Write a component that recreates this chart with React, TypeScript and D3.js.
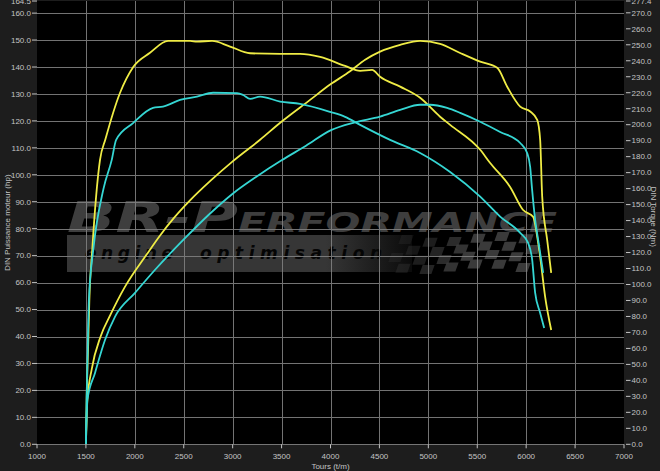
import React from "react";
import * as d3 from "d3";

// ---------- DATA ----------
const rpmTicks = [1000, 1500, 2000, 2500, 3000, 3500, 4000, 4500, 5000, 5500, 6000, 6500, 7000];
const hpTicks = [0, 10, 20, 30, 40, 50, 60, 70, 80, 90, 100, 110, 120, 130, 140, 150, 160];
const nmTicks = [0, 10, 20, 30, 40, 50, 60, 70, 80, 90, 100, 110, 120, 130, 140, 150, 160, 170, 180, 190, 200, 210, 220, 230, 240, 250, 260, 270];
const hpMax = 164.5;
const nmMax = 277.4;

// Yellow torque (Nm, right axis)
const rpmYT = [1500, 1508, 1522, 1535, 1565, 1644, 1700, 1849, 1982, 2155, 2340, 2565, 2636, 2789, 2973, 3178, 3485, 3689, 3894, 4149, 4303, 4425, 4507, 4712, 4916, 5120, 5223, 5530, 5632, 5836, 5969, 6072, 6113, 6143, 6194, 6256];
const nmYT = [0, 30, 60, 90, 122, 178, 191, 220, 236, 245, 252.4, 252.4, 252, 252.4, 248.9, 244.7, 244.3, 244.3, 242.4, 236.8, 233.7, 234.3, 230, 223.8, 216.8, 205, 199.9, 184.3, 176, 161, 146.6, 142.3, 129.8, 117.3, 92.3, 71.5];

// Yellow power (hp, left axis)
const rpmYP = [1500, 1515, 1560, 1650, 1750, 1900, 2122, 2258, 2400, 2564, 2780, 2994, 3280, 3495, 3791, 3996, 4200, 4354, 4507, 4712, 4916, 5120, 5325, 5530, 5704, 5806, 5939, 6041, 6113, 6143, 6164, 6215, 6256];
const hpYP = [0, 16.5, 28, 40, 48, 58.5, 70.5, 77.5, 84, 90.5, 98, 104.8, 113, 119.6, 127.8, 133.5, 138.4, 142.7, 145.7, 148.2, 149.7, 148.6, 145.2, 142, 139.7, 132.7, 125.3, 123.5, 120.4, 113, 91.8, 75.8, 63.6];

// Cyan torque (Nm, right axis)
const rpmCT = [1500, 1507, 1518, 1530, 1575, 1680, 1764, 1809, 1982, 2186, 2288, 2462, 2636, 2800, 3045, 3106, 3178, 3280, 3485, 3689, 3996, 4149, 4303, 4609, 4916, 5223, 5530, 5734, 5939, 6020, 6061, 6092, 6143, 6184];
const nmCT = [0, 28, 59, 90, 121.6, 160, 178, 190.5, 201, 210.5, 211.3, 215.5, 217.6, 220, 219.7, 218.6, 216.1, 217.6, 214.5, 213, 208, 204.9, 199.9, 190.5, 182.3, 170.4, 155, 142.5, 132.3, 126, 115.7, 94.7, 82.2, 72.8];

// Cyan power (hp, left axis)
const rpmCP = [1500, 1515, 1593, 1695, 1798, 2002, 2200, 2500, 2750, 3000, 3250, 3500, 3750, 4000, 4250, 4507, 4712, 4916, 5018, 5192, 5325, 5530, 5734, 5939, 6010, 6041, 6061, 6092, 6123, 6174];
const hpCP = [0, 16.5, 26.5, 38.7, 47.4, 56.2, 64.5, 76, 85, 93, 99.5, 105.4, 110.8, 116.5, 119.5, 121.6, 124.1, 126, 126, 124.8, 123, 119.7, 115.9, 111.8, 108.1, 102.9, 94.4, 83.3, 75.8, 63.6];

// ---------- LAYOUT ----------
const W = 660;
const H = 471;
const PL = 37;
const PR = 624;
const PT = 1;
const PB = 444.3;

const YELLOW = "#efec45";
const CYAN = "#35d6d3";
const TXT = "#c4c4c4";
const GRID = "#808080";
const FONT = "'Liberation Sans', Arial, sans-serif";

export default function App() {
  const x = d3.scaleLinear().domain([1000, 7000]).range([PL, PR]);
  const yL = d3.scaleLinear().domain([0, hpMax]).range([PB, PT]);
  const yR = d3.scaleLinear().domain([0, nmMax]).range([PB, PT]);

  const mk = (rpms: number[], vals: number[], ys: d3.ScaleLinear<number, number>) =>
    d3
      .line<number>()
      .x((_, i) => x(rpms[i]))
      .y((v) => ys(v))
      .curve(d3.curveMonotoneX)(vals) || "";

  const series = [
    { d: mk(rpmYT, nmYT, yR), c: YELLOW },
    { d: mk(rpmYP, hpYP, yL), c: YELLOW },
    { d: mk(rpmCT, nmCT, yR), c: CYAN },
    { d: mk(rpmCP, hpCP, yL), c: CYAN },
  ];

  // checkered flag decoration cells
  const cells: JSX.Element[] = [];
  const cw = 12;
  const ch = 9;
  for (let r = 0; r < 4; r++) {
    for (let c = 0; c < 12; c++) {
      if ((r + c) % 2 === 0) {
        const wave = Math.sin(c * 0.6) * 3;
        const op = Math.min(1, 0.25 + c / 8);
        cells.push(
          <rect
            key={`c${r}-${c}`}
            x={400 + c * cw + r * -5}
            y={235 + r * ch + wave}
            width={cw}
            height={ch}
            fill="#3a3a3a"
            opacity={op}
            transform={`skewX(-20)`}
            style={{ transformBox: "fill-box", transformOrigin: "center" }}
          />
        );
      }
    }
  }

  return (
    <svg
      width={W}
      height={H}
      style={{ position: "absolute", left: 0, top: 0, display: "block" }}
      fontFamily={FONT}
    >
      <rect x={0} y={0} width={W} height={H} fill="#1d1d1d" />
      <rect x={PL} y={PT} width={PR - PL} height={PB - PT} fill="#000" />

      <defs>
        <clipPath id="plot">
          <rect x={PL} y={PT} width={PR - PL} height={PB - PT} />
        </clipPath>
        <linearGradient id="bandFade" x1="0" x2="1" y1="0" y2="0">
          <stop offset="0%" stopColor="#363636" />
          <stop offset="75%" stopColor="#363636" />
          <stop offset="100%" stopColor="#363636" stopOpacity={0.2} />
        </linearGradient>
      </defs>

      {/* watermark */}
      <g clipPath="url(#plot)">
        <rect x={67} y={235} width={345} height={37} fill="url(#bandFade)" />
        {cells}
        <text
          x={67}
          y={232}
          fill="#3e3e3e"
          fontStyle="italic"
          fontWeight={900}
          fontFamily="'DejaVu Sans', sans-serif"
          textLength={490}
          lengthAdjust="spacingAndGlyphs"
        >
          <tspan fontSize={42}>BR-P</tspan>
          <tspan fontSize={27}>ERFORMANCE</tspan>
        </text>
        <g fill="#050505" fontStyle="italic" fontWeight={700} fontSize={17} fontFamily="'DejaVu Sans', sans-serif">
          <text x={85} y={259} textLength={88} lengthAdjust="spacing">
            engine
          </text>
          <text x={200} y={259} textLength={182} lengthAdjust="spacing">
            optimisation
          </text>
        </g>
      </g>

      {/* grid */}
      <g stroke={GRID} strokeWidth={1} opacity={0.9}>
        {hpTicks.map((t) => (
          <line key={`h${t}`} x1={PL} x2={PR} y1={Math.round(yL(t)) + 0.5} y2={Math.round(yL(t)) + 0.5} />
        ))}
        {rpmTicks.slice(1, -1).map((t) => (
          <line key={`v${t}`} x1={Math.round(x(t)) + 0.5} x2={Math.round(x(t)) + 0.5} y1={PT} y2={PB} />
        ))}
      </g>

      {/* curves */}
      <g clipPath="url(#plot)" fill="none" strokeWidth={1.8} strokeLinejoin="round">
        {series.map((s, i) => (
          <path key={i} d={s.d} stroke={s.c} />
        ))}
      </g>

      {/* left axis */}
      <g fontSize={8} fill={TXT}>
        {hpTicks.map((t) => (
          <g key={`lt${t}`}>
            <line x1={32} x2={PL} y1={yL(t)} y2={yL(t)} stroke={TXT} />
            <text x={31} y={yL(t)} dy="0.35em" textAnchor="end">
              {t.toFixed(1)}
            </text>
          </g>
        ))}
        <line x1={32} x2={PL} y1={yL(hpMax)} y2={yL(hpMax)} stroke={TXT} />
        <text x={31} y={yL(hpMax)} dy="0.35em" textAnchor="end">
          {hpMax.toFixed(1)}
        </text>
        <text transform={`translate(7,${(PT + PB) / 2}) rotate(-90)`} textAnchor="middle" dy="0.35em">
          DIN Puissance moteur (hp)
        </text>
      </g>

      {/* right axis */}
      <g fontSize={8} fill={TXT}>
        {nmTicks.map((t) => (
          <g key={`rt${t}`}>
            <line x1={626} x2={630.5} y1={yR(t)} y2={yR(t)} stroke={TXT} />
            <text x={631.5} y={yR(t)} dy="0.35em">
              {t.toFixed(1)}
            </text>
          </g>
        ))}
        <line x1={626} x2={630.5} y1={yR(nmMax)} y2={yR(nmMax)} stroke={TXT} />
        <text x={631.5} y={yR(nmMax)} dy="0.35em">
          {nmMax.toFixed(1)}
        </text>
        <text transform={`translate(654,${(PT + PB) / 2 - 6}) rotate(90)`} textAnchor="middle" dy="0.35em">
          DIN Torque (Nm)
        </text>
      </g>

      {/* bottom axis */}
      <g fontSize={8} fill={TXT}>
        {rpmTicks.map((t) => (
          <g key={`bt${t}`}>
            <line x1={x(t)} x2={x(t)} y1={PB} y2={PB + 4} stroke={TXT} />
            <text x={x(t)} y={459} textAnchor="middle">
              {t}
            </text>
          </g>
        ))}
        <text x={(PL + PR) / 2} y={469} textAnchor="middle">
          Tours (t/m)
        </text>
      </g>
    </svg>
  );
}
